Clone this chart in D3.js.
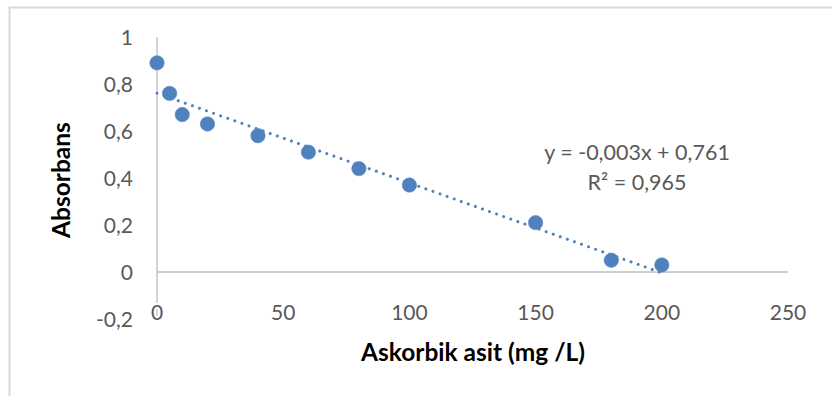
<!DOCTYPE html>
<html>
<head>
<meta charset="utf-8">
<script src="https://cdn.jsdelivr.net/npm/d3@7"></script>
<style>
  html, body { margin: 0; padding: 0; background: #fff; }
  svg { display: block; }
</style>
</head>
<body>
<svg id="chart" width="832" height="396"></svg>
<script>
// Ascorbic acid concentration (mg/L) and measured absorbance
const concentration = [0, 5, 10, 20, 40, 60, 80, 100, 150, 180, 200];
const absorbance = [0.89, 0.76, 0.67, 0.63, 0.58, 0.51, 0.44, 0.37, 0.21, 0.05, 0.03];
const xTicks = [0, 50, 100, 150, 200, 250];
const yTicks = [-0.2, 0, 0.2, 0.4, 0.6, 0.8, 1];
const equationText = "y = -0,003x + 0,761";
const r2Text = "R² = 0,965";
const xTitle = "Askorbik asit (mg /L)";
const yTitle = "Absorbans";

const svg = d3.select("#chart");
const font = "Lato, 'Open Sans', sans-serif";
const blue = "#4F81BD";

const x = d3.scaleLinear().domain([0, 250]).range([157, 788]);
const y = d3.scaleLinear().domain([-0.2, 1]).range([319, 37]);
const fmt = v => (Math.abs(v) < 1e-9 ? "0" : String(+v.toFixed(1)).replace(".", ","));

// chart frame (top and left edges)
svg.append("path")
  .attr("d", "M9.5,850 V7.5 H900")
  .attr("fill", "none")
  .attr("stroke", "#d9d9d9")
  .attr("stroke-width", 2);

// horizontal axis line at y = 0
svg.append("line")
  .attr("x1", x(0)).attr("x2", x(250))
  .attr("y1", y(0)).attr("y2", y(0))
  .attr("stroke", "#bfbfbf").attr("stroke-width", 1.3);

// vertical axis line at x = 0
svg.append("line")
  .attr("x1", x(0)).attr("x2", x(0))
  .attr("y1", y(1)).attr("y2", y(-0.2))
  .attr("stroke", "#bfbfbf").attr("stroke-width", 1.3);

// y tick labels
svg.append("g").selectAll("text")
  .data(yTicks).join("text")
  .attr("x", 133)
  .attr("y", d => y(d))
  .attr("dy", "0.36em")
  .attr("text-anchor", "end")
  .attr("font-family", font)
  .attr("font-size", 21)
  .attr("fill", "#595959")
  .text(fmt);

// x tick labels sit at the low end of the value range
svg.append("g").selectAll("text")
  .data(xTicks).join("text")
  .attr("x", d => x(d))
  .attr("y", 312)
  .attr("dy", "0.36em")
  .attr("text-anchor", "middle")
  .attr("font-family", font)
  .attr("font-size", 21)
  .attr("fill", "#595959")
  .attr("stroke", "#fff")
  .attr("stroke-width", 4)
  .attr("paint-order", "stroke")
  .text(d => d);

// least-squares linear trendline
const n = concentration.length;
const mx = d3.mean(concentration), my = d3.mean(absorbance);
let sxy = 0, sxx = 0;
for (let i = 0; i < n; i++) {
  sxy += (concentration[i] - mx) * (absorbance[i] - my);
  sxx += (concentration[i] - mx) ** 2;
}
const slope = sxy / sxx, intercept = my - slope * mx;
const xMin = d3.min(concentration), xMax = d3.max(concentration);

svg.append("line")
  .attr("x1", x(xMin)).attr("y1", y(intercept + slope * xMin))
  .attr("x2", x(xMax)).attr("y2", y(intercept + slope * xMax))
  .attr("stroke", blue)
  .attr("stroke-width", 3)
  .attr("stroke-linecap", "round")
  .attr("stroke-dasharray", "0.01 7.5");

// data points
svg.append("g").selectAll("circle")
  .data(concentration.map((c, i) => [c, absorbance[i]]))
  .join("circle")
  .attr("cx", d => x(d[0]))
  .attr("cy", d => y(d[1]))
  .attr("r", 7.2)
  .attr("fill", blue)
  .attr("stroke", "#5b8ac6")
  .attr("stroke-width", 0.6);

// trendline equation
svg.append("text")
  .attr("x", 637).attr("y", 152).attr("dy", "0.36em")
  .attr("text-anchor", "middle")
  .attr("font-family", font).attr("font-size", 21.5)
  .attr("fill", "#595959")
  .text(equationText);
svg.append("text")
  .attr("x", 637).attr("y", 182).attr("dy", "0.36em")
  .attr("text-anchor", "middle")
  .attr("font-family", font).attr("font-size", 21.5)
  .attr("fill", "#595959")
  .text(r2Text);

// axis titles
svg.append("text")
  .attr("x", 473).attr("y", 352).attr("dy", "0.36em")
  .attr("text-anchor", "middle")
  .attr("font-family", font).attr("font-size", 24.5)
  .attr("font-weight", "bold")
  .attr("fill", "#000")
  .text(xTitle);

svg.append("text")
  .attr("transform", "translate(61,180) rotate(-90)")
  .attr("dy", "0.36em")
  .attr("text-anchor", "middle")
  .attr("font-family", font).attr("font-size", 24.5)
  .attr("font-weight", "bold")
  .attr("fill", "#000")
  .text(yTitle);
</script>
</body>
</html>
